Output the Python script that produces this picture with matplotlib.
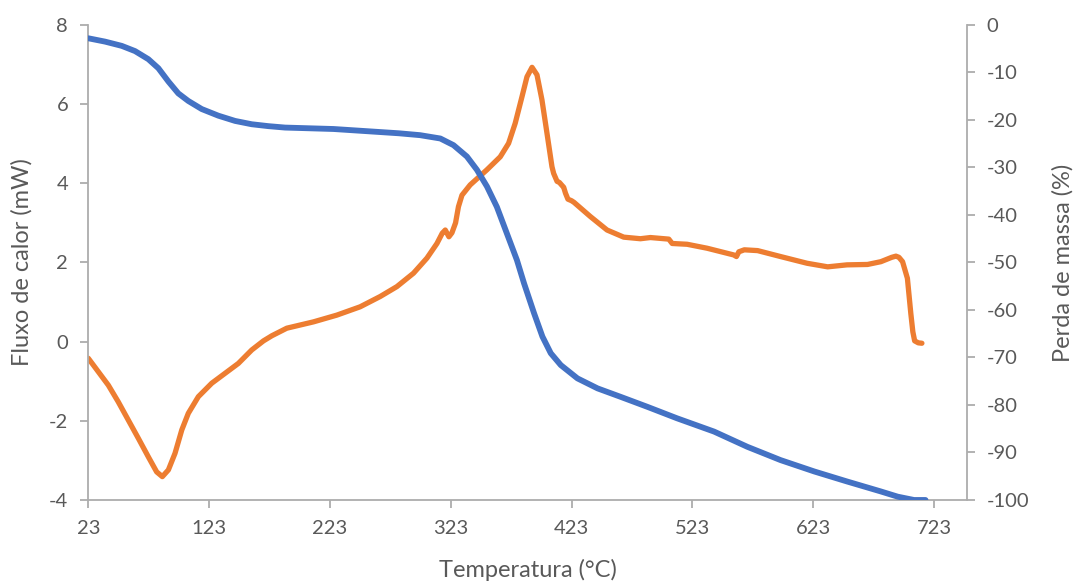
import matplotlib
matplotlib.use("Agg")
import matplotlib.pyplot as plt

# Thermal analysis of the sample: TGA mass loss and DSC heat flow
temp_tga = [23, 36.8, 50.7, 61.7, 72.7, 81, 89.3, 97.5, 105.8, 116.9, 130.7, 144.5,
            158.3, 172.1, 185.9, 226, 250, 280, 297.7, 314.4, 325.3, 336.4, 344.7,
            353, 361.2, 369.5, 377.8, 383.7, 392, 398.9, 405.8, 414.1, 427.9, 444.5,
            463.8, 485.9, 510.3, 541, 568.5, 596, 624, 651, 679, 693, 706.5, 716]
massa_tga = [-2.8, -3.5, -4.4, -5.5, -7.2, -9.1, -11.9, -14.4, -16.0, -17.7, -19.1,
             -20.2, -20.9, -21.3, -21.6, -21.9, -22.3, -22.8, -23.2, -23.9, -25.3,
             -27.7, -30.5, -34.0, -38.3, -43.9, -49.5, -54.4, -60.7, -65.6, -69.1,
             -71.6, -74.4, -76.5, -78.3, -80.4, -82.8, -85.6, -88.8, -91.6, -94.0,
             -96.1, -98.2, -99.3, -100.0, -100.0]

temp_dsc = [23, 31.3, 39.6, 47.8, 56.1, 64.4, 72.7, 79.6, 84.3, 89.3, 94.8, 100.4,
            105.8, 114.1, 125.2, 136.2, 147.2, 158.3, 168, 175, 187.3, 209.4, 228.7,
            248, 264.6, 278.4, 292.2, 303.3, 311.6, 316, 318.5, 321.5, 324, 327,
            329.4, 332.3, 339.1, 352.9, 364, 370.9, 376.4, 382, 386.1, 390.3, 394.4,
            398.5, 402.7, 406.8, 408.2, 411, 413, 415, 416.5, 418, 420, 423, 425,
            438.6, 452.4, 466.2, 480, 488.3, 503.5, 506.3, 518.7, 535.2, 557.3,
            559.5, 561.5, 566, 577, 596, 618, 635, 651, 668, 679, 688, 691.5, 694,
            697, 701, 703.8, 705.5, 707, 710, 713]
fluxo_dsc = [-0.42, -0.76, -1.10, -1.52, -1.98, -2.44, -2.91, -3.29, -3.41, -3.24,
             -2.82, -2.23, -1.81, -1.39, -1.05, -0.80, -0.55, -0.21, 0.02, 0.15,
             0.34, 0.50, 0.67, 0.88, 1.14, 1.39, 1.73, 2.11, 2.48, 2.74, 2.82, 2.65,
             2.75, 3.00, 3.41, 3.70, 3.96, 4.34, 4.67, 5.01, 5.52, 6.19, 6.69, 6.93,
             6.74, 6.11, 5.26, 4.42, 4.25, 4.05, 4.02, 3.95, 3.90, 3.75, 3.60, 3.56,
             3.52, 3.16, 2.82, 2.64, 2.60, 2.63, 2.59, 2.48, 2.46, 2.36, 2.19, 2.15,
             2.27, 2.32, 2.30, 2.15, 1.98, 1.89, 1.94, 1.95, 2.02, 2.13, 2.16, 2.13,
             2.02, 1.60, 0.72, 0.25, 0.02, -0.03, -0.04]

x_ticks = [23, 123, 223, 323, 423, 523, 623, 723]
y_left_ticks = [-4, -2, 0, 2, 4, 6, 8]
y_right_ticks = [-100, -90, -80, -70, -60, -50, -40, -30, -20, -10, 0]

plt.rcParams['font.family'] = ['Lato', 'DejaVu Sans']
plt.rcParams['axes.unicode_minus'] = False
txt = '#595959'
spine = '#ADADAD'
tick_fs = 14.5
label_fs = 17

fig = plt.figure(figsize=(10.74, 5.82), dpi=100)
ax = fig.add_axes([0.0822, 0.1409, 0.8178, 0.8162])
ax2 = ax.twinx()

ax.plot(temp_dsc, fluxo_dsc, color='#ED7D31', lw=3.8, solid_joinstyle='round',
        solid_capstyle='round')
ax2.plot(temp_tga, massa_tga, color='#4472C4', lw=4.2, solid_joinstyle='round',
         solid_capstyle='round')

ax.set_xlim(23, 750)
ax.set_ylim(-4, 8)
ax2.set_ylim(-100, 0)
ax.set_xticks(x_ticks)
ax.set_yticks(y_left_ticks)
ax2.set_yticks(y_right_ticks)

for a in (ax, ax2):
    for s in a.spines.values():
        s.set_color(spine)
        s.set_linewidth(1.3)
    a.spines['top'].set_visible(False)
    a.tick_params(colors=spine, labelcolor=txt, labelsize=tick_fs, length=5.5,
                  width=1.3, pad=9)
ax.spines['right'].set_visible(False)
ax2.spines['left'].set_visible(False)
ax2.spines['bottom'].set_visible(False)

ax.set_xlabel('Temperatura (°C)', fontsize=label_fs, color=txt, va='center')
ax.xaxis.set_label_coords(0.5, -0.147)
ax.set_ylabel('Fluxo de calor (mW)', fontsize=label_fs, color=txt, va='center')
ax.yaxis.set_label_coords(-0.0755, 0.5)
ax2.set_ylabel('Perda de massa (%)', fontsize=label_fs, color=txt, va='center')
ax2.yaxis.set_label_coords(1.1096, 0.5)

fig.savefig('out.png', dpi=100)
